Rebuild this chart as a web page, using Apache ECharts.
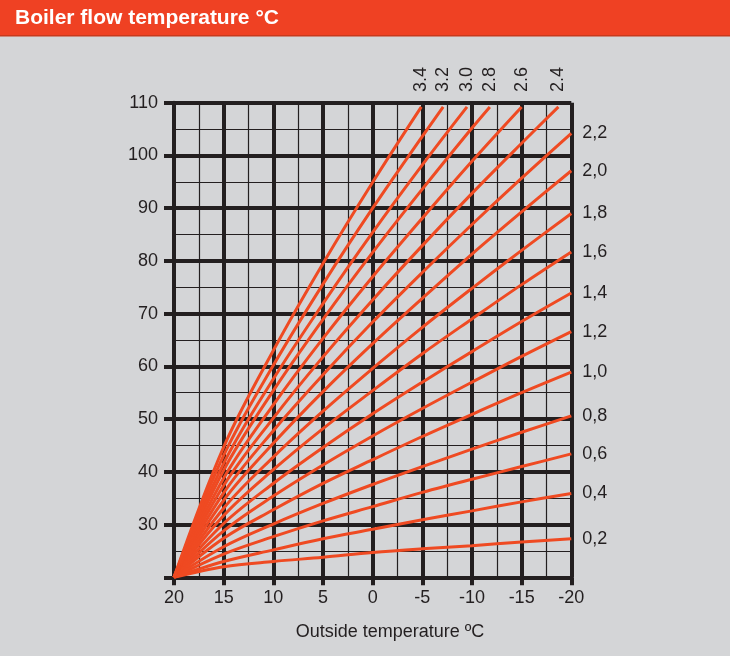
<!DOCTYPE html>
<html>
<head>
<meta charset="utf-8">
<script src="https://cdn.jsdelivr.net/npm/echarts@6/dist/echarts.min.js"></script>
<style>
html,body{margin:0;padding:0;background:#d4d5d7;}
#chart{width:730px;height:656px;}
</style>
</head>
<body>
<div id="chart"></div>
<script>
// Outside temperature (x) and boiler flow temperature (y) points for each heating curve
const curve_0_2 = [[20,20],[15,22.0],[10,23.0],[5,23.8],[0,24.7],[-5,25.4],[-10,26.0],[-15,26.7],[-20,27.3]];
const curve_0_4 = [[20,20],[15,23.0],[10,25.2],[5,27.3],[0,29.1],[-5,30.9],[-10,32.6],[-15,34.3],[-20,35.9]];
const curve_0_6 = [[20,20],[15,24.4],[10,27.7],[5,30.7],[0,33.4],[-5,36.1],[-10,38.6],[-15,41.0],[-20,43.4]];
const curve_0_8 = [[20,20],[15,25.8],[10,30.1],[5,34.0],[0,37.6],[-5,41.0],[-10,44.3],[-15,47.5],[-20,50.6]];
const curve_1_0 = [[20,20],[15,27.4],[10,32.8],[5,37.8],[0,42.3],[-5,46.7],[-10,50.9],[-15,55.0],[-20,58.9]];
const curve_1_2 = [[20,20],[15,28.8],[10,35.4],[5,41.3],[0,46.8],[-5,52.0],[-10,57.0],[-15,61.9],[-20,66.6]];
const curve_1_4 = [[20,20],[15,30.2],[10,37.8],[5,44.6],[0,51.0],[-5,57.0],[-10,62.8],[-15,68.5],[-20,73.9]];
const curve_1_6 = [[20,20],[15,31.7],[10,40.4],[5,48.2],[0,55.4],[-5,62.4],[-10,69.0],[-15,75.5],[-20,81.7]];
const curve_1_8 = [[20,20],[15,33.1],[10,42.8],[5,51.5],[0,59.6],[-5,67.4],[-10,74.8],[-15,82.0],[-20,89.0]];
const curve_2_0 = [[20,20],[15,34.6],[10,45.4],[5,55.2],[0,64.3],[-5,72.9],[-10,81.3],[-15,89.3],[-20,97.1]];
const curve_2_2 = [[20,20],[15,36.0],[10,47.8],[5,58.4],[0,68.4],[-5,77.8],[-10,86.9],[-15,95.7],[-20,104.2]];
const curve_2_4 = [[20,20],[15,37.4],[10,50.2],[5,61.8],[0,72.6],[-5,82.9],[-10,92.8],[-15,102.3],[-18.7,109.2]];
const curve_2_6 = [[20,20],[15,38.8],[10,52.7],[5,65.3],[0,77.0],[-5,88.1],[-10,98.9],[-15,109.2]];
const curve_2_8 = [[20,20],[15,40.3],[10,55.4],[5,68.9],[0,81.6],[-5,93.6],[-10,105.2],[-11.8,109.2]];
const curve_3_0 = [[20,20],[15,41.6],[10,57.6],[5,71.9],[0,85.4],[-5,98.2],[-9.5,109.2]];
const curve_3_2 = [[20,20],[15,43.1],[10,60.2],[5,75.6],[0,90.0],[-5,103.6],[-7.1,109.2]];
const curve_3_4 = [[20,20],[15,44.7],[10,63.0],[5,79.5],[0,94.9],[-4.9,109.2]];

// Curve labels: right-hand side (comma decimals) and top (dot decimals)
const rightLabels = ['0,2','0,4','0,6','0,8','1,0','1,2','1,4','1,6','1,8','2,0','2,2'];
const rightCurves = [curve_0_2,curve_0_4,curve_0_6,curve_0_8,curve_1_0,curve_1_2,curve_1_4,curve_1_6,curve_1_8,curve_2_0,curve_2_2];
const topLabels = ['2.4','2.6','2.8','3.0','3.2','3.4'];
const topCurves = [curve_2_4,curve_2_6,curve_2_8,curve_3_0,curve_3_2,curve_3_4];

const titleText = 'Boiler flow temperature °C';
const xAxisTitle = 'Outside temperature ºC';

const INK = '#231f20';
const RED = '#ef4a22';
const FONT = '"Liberation Sans", Arial, sans-serif';

function makeSeries(name, pts, top) {
  const lab = top
    ? { show: true, formatter: name, distance: 0, offset: [15, 0], rotate: 90,
        align: 'left', verticalAlign: 'middle', fontSize: 18, color: INK, fontFamily: FONT }
    : { show: true, formatter: name, distance: 0, offset: [11, 0], align: 'left', verticalAlign: 'middle',
        fontSize: 18, color: INK, fontFamily: FONT };
  return {
    type: 'line', name: name, data: pts, smooth: 0.35,
    showSymbol: false, symbol: 'none',
    lineStyle: { color: RED, width: 3 },
    itemStyle: { color: RED },
    emphasis: { disabled: true },
    endLabel: lab,
    z: 5
  };
}

const series = [];
rightCurves.forEach((c, i) => series.push(makeSeries(rightLabels[i], c, false)));
topCurves.forEach((c, i) => series.push(makeSeries(topLabels[i], c, true)));

const chart = echarts.init(document.getElementById('chart'), null, { renderer: 'canvas' });
chart.setOption({
  backgroundColor: '#d4d5d7',
  animation: false,
  textStyle: { fontFamily: FONT },
  grid: { left: 174, right: 158.7, top: 102.7, bottom: 78.7 },
  xAxis: {
    type: 'value', min: -20, max: 20, interval: 5, inverse: true,
    axisLine: { show: true, onZero: false, lineStyle: { color: INK, width: 4 } },
    axisTick: { show: true, length: 8, lineStyle: { color: INK, width: 4 } },
    axisLabel: { fontSize: 18, color: INK, margin: 12, fontFamily: FONT },
    splitLine: { show: true, lineStyle: { color: INK, width: 4 } },
    minorTick: { show: false, splitNumber: 2 },
    minorSplitLine: { show: true, lineStyle: { color: INK, width: 1.2 } }
  },
  yAxis: {
    type: 'value', min: 20, max: 110, interval: 10,
    axisLine: { show: true, onZero: false, lineStyle: { color: INK, width: 4 } },
    axisTick: { show: true, length: 10, lineStyle: { color: INK, width: 4 } },
    axisLabel: { fontSize: 18, color: INK, margin: 16, fontFamily: FONT,
      formatter: v => (v === 20 ? '' : String(v)) },
    splitLine: { show: true, lineStyle: { color: INK, width: 4 } },
    minorTick: { show: false, splitNumber: 2 },
    minorSplitLine: { show: true, lineStyle: { color: INK, width: 1.2 } }
  },
  graphic: [
    { type: 'rect', left: 0, top: 0, shape: { width: 730, height: 36 }, style: { fill: '#ef4123' }, z: 10 },
    { type: 'rect', left: 0, top: 35, shape: { width: 730, height: 1.5 }, style: { fill: '#c7391d' }, z: 11 },
    { type: 'text', x: 15, y: 18, style: { text: titleText, fill: '#ffffff',
        font: 'bold 21px ' + FONT, textVerticalAlign: 'middle' }, z: 12 },
    { type: 'text', x: 390, y: 632, style: { text: xAxisTitle, fill: INK, font: '18px ' + FONT,
        textAlign: 'center', textVerticalAlign: 'middle' }, z: 12 }
  ],
  series: series
});
</script>
</body>
</html>
